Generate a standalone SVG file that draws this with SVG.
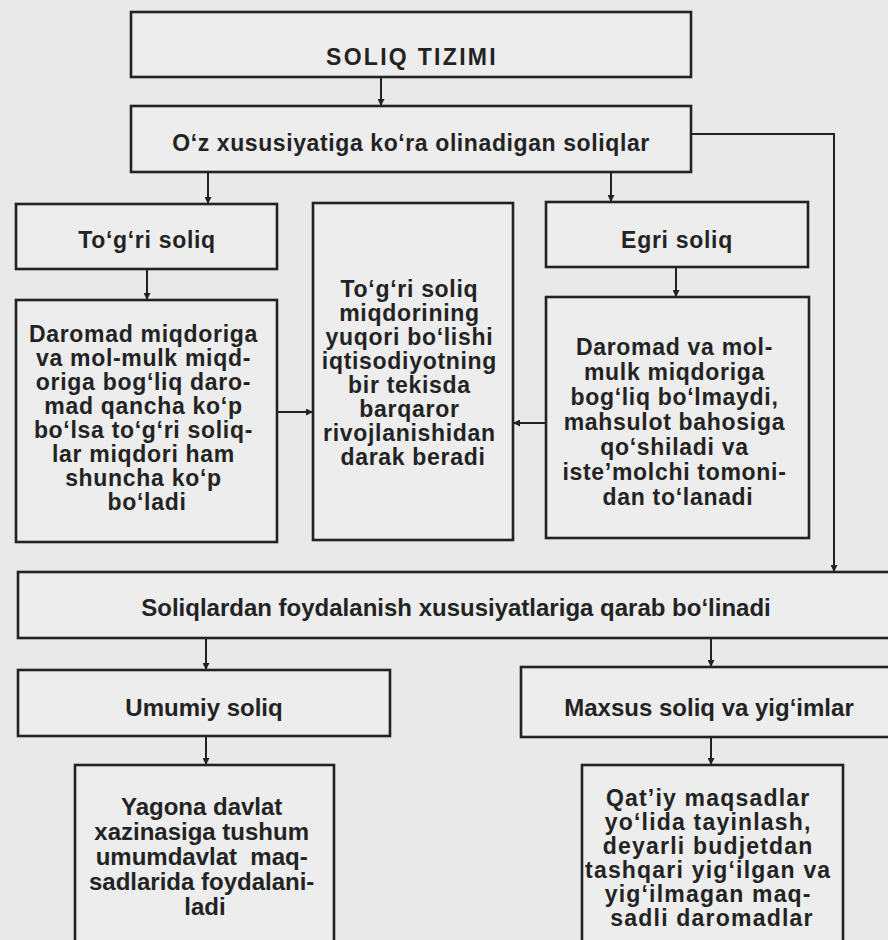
<svg xmlns="http://www.w3.org/2000/svg" width="888" height="940" viewBox="0 0 888 940">
  <defs>
    <marker id="ah" viewBox="0 0 10 10" refX="10" refY="5" markerWidth="11" markerHeight="7" markerUnits="userSpaceOnUse" orient="auto">
      <path d="M0,0 L10,5 L0,10 Z" fill="#222"/>
    </marker>
    <style>
      .box { fill: #ededed; stroke: #222; stroke-width: 2.6; }
      .t { font-family: "Liberation Sans", Arial, sans-serif; font-weight: bold; fill: #232323; text-anchor: middle; }
      .a { font-size: 23px; letter-spacing: 0.7px; }
      .b { font-size: 24px; }
      .q { font-size: 23px; letter-spacing: 1.2px; }
      .c { stroke: #222; stroke-width: 2; fill: none; marker-end: url(#ah); }
    </style>
  </defs>
  <rect x="0" y="0" width="888" height="940" fill="#e9e9e9"/>

  <g id="connectors">
    <path class="c" d="M381,77 V106"/>
    <path class="c" d="M208,172 V204"/>
    <path class="c" d="M611,172 V202"/>
    <path class="c" d="M691,134 H834 V572"/>
    <path class="c" d="M147,269 V300"/>
    <path class="c" d="M676,267 V297"/>
    <path class="c" d="M277,412 H313"/>
    <path class="c" d="M546,423 H513"/>
    <path class="c" d="M206,638 V670"/>
    <path class="c" d="M711,638 V667"/>
    <path class="c" d="M206,736 V765"/>
    <path class="c" d="M711,737 V765"/>
  </g>

  <g id="soliq-tizimi">
    <rect class="box" x="131" y="12" width="560" height="65"/>
    <text class="t a" x="412" y="65" style="letter-spacing:2.3px">SOLIQ TIZIMI</text>
  </g>

  <g id="oz-xususiyatiga">
    <rect class="box" x="131" y="106" width="560" height="66"/>
    <text class="t a" x="411" y="151" style="letter-spacing:0.6px">O‘z xususiyatiga ko‘ra olinadigan soliqlar</text>
  </g>

  <g id="togri-soliq">
    <rect class="box" x="16" y="204" width="261" height="65"/>
    <text class="t a" x="147" y="248">To‘g‘ri soliq</text>
  </g>

  <g id="egri-soliq">
    <rect class="box" x="546" y="202" width="262" height="65"/>
    <text class="t a" x="677" y="248">Egri soliq</text>
  </g>

  <g id="togri-tavsif">
    <rect class="box" x="16" y="300" width="261" height="242"/>
    <text class="t a" x="147" y="342">
      <tspan x="147" y="342">Daromad miqdoriga</tspan>
      <tspan x="147" y="366">va mol-mulk miqd-</tspan>
      <tspan x="147" y="390">origa bog‘liq daro-</tspan>
      <tspan x="147" y="414">mad qancha ko‘p</tspan>
      <tspan x="147" y="438">bo‘lsa to‘g‘ri soliq-</tspan>
      <tspan x="147" y="462">lar miqdori ham</tspan>
      <tspan x="147" y="486">shuncha ko‘p</tspan>
      <tspan x="147" y="510">bo‘ladi</tspan>
    </text>
  </g>

  <g id="iqtisodiyot">
    <rect class="box" x="313" y="203" width="200" height="337"/>
    <text class="t a" x="413" y="297">
      <tspan x="413" y="297">To‘g‘ri soliq</tspan>
      <tspan x="413" y="321">miqdorining</tspan>
      <tspan x="413" y="345">yuqori bo‘lishi</tspan>
      <tspan x="413" y="369">iqtisodiyotning</tspan>
      <tspan x="413" y="393">bir tekisda</tspan>
      <tspan x="413" y="417">barqaror</tspan>
      <tspan x="413" y="441">rivojlanishidan</tspan>
      <tspan x="413" y="465">darak beradi</tspan>
    </text>
  </g>

  <g id="egri-tavsif">
    <rect class="box" x="546" y="297" width="263" height="241"/>
    <text class="t a" x="678" y="355">
      <tspan x="678" y="355">Daromad va mol-</tspan>
      <tspan x="678" y="380">mulk miqdoriga</tspan>
      <tspan x="678" y="405">bog‘liq bo‘lmaydi,</tspan>
      <tspan x="678" y="430">mahsulot bahosiga</tspan>
      <tspan x="678" y="455">qo‘shiladi va</tspan>
      <tspan x="678" y="480">iste’molchi tomoni-</tspan>
      <tspan x="678" y="505">dan to‘lanadi</tspan>
    </text>
  </g>

  <g id="foydalanish">
    <rect class="box" x="18" y="572" width="890" height="66"/>
    <text class="t b" x="456" y="616">Soliqlardan foydalanish xususiyatlariga qarab bo‘linadi</text>
  </g>

  <g id="umumiy-soliq">
    <rect class="box" x="18" y="670" width="372" height="66"/>
    <text class="t b" x="204" y="716">Umumiy soliq</text>
  </g>

  <g id="maxsus-soliq">
    <rect class="box" x="521" y="667" width="390" height="70"/>
    <text class="t b" x="709" y="716">Maxsus soliq va yig‘imlar</text>
  </g>

  <g id="yagona-davlat">
    <rect class="box" x="75" y="765" width="259" height="200"/>
    <text class="t b" x="205" y="815">
      <tspan x="205" y="815">Yagona davlat</tspan>
      <tspan x="205" y="840">xazinasiga tushum</tspan>
      <tspan x="205" y="865" style="white-space:pre">umumdavlat  maq-</tspan>
      <tspan x="205" y="890">sadlarida foydalani-</tspan>
      <tspan x="205" y="915">ladi</tspan>
    </text>
  </g>

  <g id="qatiy-maqsadlar">
    <rect class="box" x="582" y="765" width="261" height="200"/>
    <text class="t q" x="712" y="806">
      <tspan x="712" y="806">Qat’iy maqsadlar</tspan>
      <tspan x="712" y="830">yo‘lida tayinlash,</tspan>
      <tspan x="712" y="854">deyarli budjetdan</tspan>
      <tspan x="712" y="878">tashqari yig‘ilgan va</tspan>
      <tspan x="712" y="902">yig‘ilmagan maq-</tspan>
      <tspan x="712" y="926">sadli daromadlar</tspan>
    </text>
  </g>
</svg>
